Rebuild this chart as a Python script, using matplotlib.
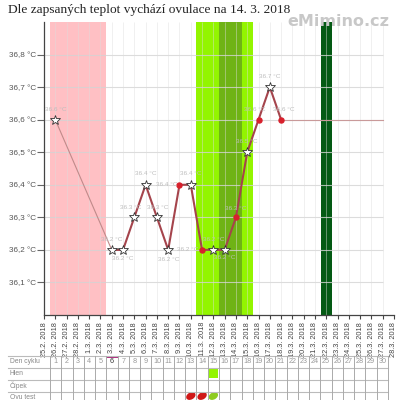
import matplotlib
matplotlib.use('Agg')
import matplotlib.pyplot as plt
from matplotlib.patches import Ellipse, Rectangle

dates = ['25.2.', '26.2.', '27.2.', '28.2.', '1.3.', '2.3.', '3.3.', '4.3.', '5.3.', '6.3.', '7.3.',
         '8.3.', '9.3.', '10.3.', '11.3.', '12.3.', '13.3.', '14.3.', '15.3.', '16.3.', '17.3.',
         '18.3.', '19.3.', '20.3.', '21.3.', '22.3.', '23.3.', '24.3.', '25.3.', '26.3.', '27.3.', '28.3.']
temp_dates = ['26.2.', '3.3.', '4.3.', '5.3.', '6.3.', '7.3.', '8.3.', '9.3.', '10.3.', '11.3.',
              '12.3.', '13.3.', '14.3.', '15.3.', '16.3.', '17.3.', '18.3.', '27.3.']
temps = [36.6, 36.2, 36.2, 36.3, 36.4, 36.3, 36.2, 36.4, 36.4, 36.2, 36.2, 36.2, 36.3, 36.5, 36.6, 36.7, 36.6, 36.6]
stars = [True, True, True, True, True, True, True, False, True, False, True, True, False, True, False, True, False, None]
yticks = [36.1, 36.2, 36.3, 36.4, 36.5, 36.6, 36.7, 36.8]
row_names = ['Den cyklu', 'Hlen', 'Čípek', 'Ovu test']
cycle_days = list(range(1, 31))

plt.rcParams['font.family'] = ['Liberation Sans', 'DejaVu Sans']

x = [dates.index(d) for d in temp_dates]

fig = plt.figure(figsize=(4, 4), dpi=100)
fig.text(8 / 400, 1 - 9.5 / 400, 'Dle zapsaných teplot vychází ovulace na 14. 3. 2018',
         family='Liberation Serif', fontsize=9.65, color='#222222', va='center')
fig.text(338 / 400, 1 - 21 / 400, 'eMimino.cz', fontsize=11.5, fontweight='bold', color='#c8c8c8',
         ha='center', va='center', family='DejaVu Sans', zorder=10)

ax = fig.add_axes([44 / 400, 85 / 400, 350 / 400, 293 / 400])
ax.set_xlim(0, 31)
ax.set_ylim(36.0, 36.9)
for s in ['top', 'right']:
    ax.spines[s].set_visible(False)
for s in ['left', 'bottom']:
    ax.spines[s].set_color('#444444')
    ax.spines[s].set_linewidth(0.9)

# fertile / period bands
ax.axvspan(0.5, 5.5, color='#ffc0c4', lw=0, zorder=1)
ax.axvspan(13.5, 18.5, color='#93f500', lw=0, zorder=1)
ax.axvspan(15.5, 17.5, color='#6fb315', lw=0, zorder=1)
ax.axvspan(24.5, 25.5, color='#045a14', lw=0, zorder=1)

ax.hlines(yticks, 0, 30, color='#d4d4d4', lw=0.8, alpha=0.8, zorder=2)
ax.vlines(range(1, 31), 36.0, 36.9, color='#dddddd', lw=0.7, alpha=0.45, zorder=2)

ax.set_yticks(yticks)
ax.set_yticklabels([('%.1f °C' % v).replace('.', ',') for v in yticks], fontsize=5.9, color='#555555')
ax.set_xticks(range(len(dates)))
ax.set_xticklabels([d + ' 2018' for d in dates], rotation=90, fontsize=5.3, color='#444444')
ax.tick_params(axis='y', length=5, width=0.8, color='#666666', pad=1)
ax.tick_params(axis='x', length=3, width=0.8, color='#444444', pad=2)

# thin parts of the curve, thick in the middle
ax.plot(x[:2], temps[:2], color='#c08a8a', lw=0.8, zorder=3)
ax.plot(x[1:17], temps[1:17], color='#a5444c', lw=1.5, zorder=3)
ax.plot(x[16:], temps[16:], color='#c99a9a', lw=0.8, zorder=3)

for xi, t, st in zip(x, temps, stars):
    if st is True:
        ax.plot(xi, t, marker='*', ms=7, mfc='white', mec='#333333', mew=0.6, zorder=5)
    elif st is False:
        ax.plot(xi, t, marker='o', ms=3.6, color='#d8202c', zorder=5)

# value labels, offsets in pixels
offsets = [(0, 10), (0, 10), (0, -9), (-4, 10), (0, 11), (1, 10), (0, -10), (-13, 0), (0, 11), (-14, 0),
           (0, 10), (0, -8), (0, 9), (0, 11), (-4, 10), (0, 11), (3, 10)]
for xi, t, off in zip(x, temps, offsets):
    ax.annotate('%.1f °C' % t, (xi, t), xytext=off, textcoords='offset pixels', fontsize=4.6,
                color='#bdbdbd', ha='center', va='center', zorder=6)

# cycle table underneath
tb = fig.add_axes([0, 0, 1, 50 / 400])
tb.set_xlim(0, 400)
tb.set_ylim(400, 350)
tb.axis('off')
col_w = 338 / 30
row_y = [356, 367.5, 379.5, 391.5, 403]
for y in row_y:
    tb.plot([8, 388], [y, y], color='#bbbbbb', lw=0.8)
for i in range(31):
    tb.plot([50 + i * col_w] * 2, [356, 403], color='#aaaaaa', lw=0.7)
for y0, y1, name in zip(row_y[:-1], row_y[1:], row_names):
    tb.text(10, (y0 + y1) / 2, name, fontsize=4.9, color='#888888', va='center')
for d in cycle_days:
    tb.text(50 + (d - 0.5) * col_w, 361.8, str(d), fontsize=5.2, color='#333333' if d == 6 else '#999999',
            ha='center', va='center')

tb.add_patch(Rectangle((50 + 5 * col_w, 356), col_w, 1.5, color='#b03080', lw=0))
tb.add_patch(Rectangle((50 + 14 * col_w + 0.5, 368.5), col_w - 1.5, col_w - 1.5, color='#93f500', lw=0))
ovu_test = [(13, '#d01818'), (14, '#d01818'), (15, '#8ecb20')]
for d, c in ovu_test:
    tb.add_patch(Ellipse((50 + (d - 0.5) * col_w, 396), 10, 7, angle=-30, color=c, lw=0))

fig.savefig('out.png', dpi=100)
